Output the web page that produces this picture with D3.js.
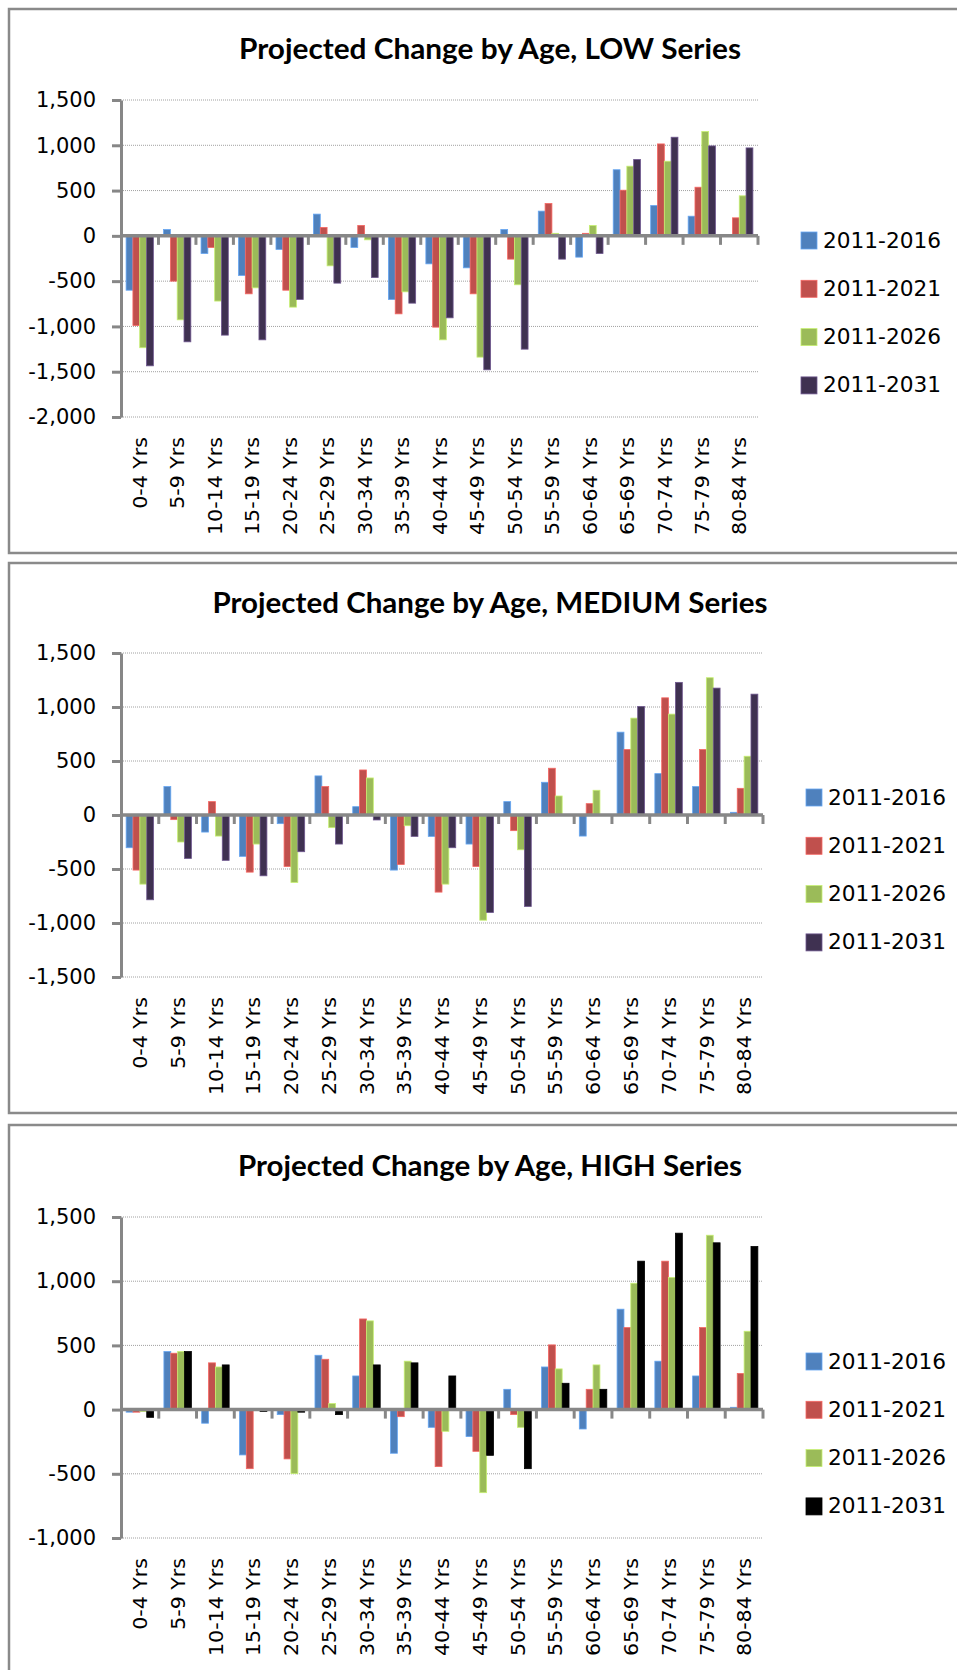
<!DOCTYPE html>
<html>
<head>
<meta charset="utf-8">
<script src="https://cdn.jsdelivr.net/npm/d3@7"></script>
<style>
  body { margin: 0; background: #fff; }
  svg { display: block; }
  .lab { font-family: "DejaVu Sans", Verdana, sans-serif; }
</style>
</head>
<body>
<svg></svg>
<script>
// age groups on the x axis
const ageGroups = ['0-4 Yrs', '5-9 Yrs', '10-14 Yrs', '15-19 Yrs', '20-24 Yrs', '25-29 Yrs',
    '30-34 Yrs', '35-39 Yrs', '40-44 Yrs', '45-49 Yrs', '50-54 Yrs', '55-59 Yrs',
    '60-64 Yrs', '65-69 Yrs', '70-74 Yrs', '75-79 Yrs', '80-84 Yrs'];

const periods = ['2011-2016', '2011-2021', '2011-2026', '2011-2031'];

// LOW series
const low2016 = [-600, 70, -195, -437, -150, 240, -128, -702, -309, -353, 70, 273, -235, 730, 335, 217, 0];
const low2021 = [-990, -500, -128, -640, -600, 93, 115, -861, -1008, -640, -257, 357, 28, 504, 1015, 537, 199];
const low2026 = [-1235, -927, -720, -574, -787, -331, -44, -618, -1148, -1339, -540, 28, 115, 769, 824, 1152, 442];
const low2031 = [-1435, -1170, -1096, -1148, -702, -522, -460, -743, -905, -1479, -1251, -257, -195, 843, 1089, 993, 971];

// MEDIUM series
const med2016 = [-303, 263, -158, -383, -80, 362, 77, -510, -198, -269, 124, 303, -195, 767, 383, 263, 25];
const med2021 = [-510, -43, 124, -529, -476, 263, 417, -458, -714, -476, -145, 433, 105, 606, 1085, 606, 247];
const med2026 = [-640, -250, -195, -269, -625, -117, 343, -99, -640, -974, -322, 176, 229, 897, 934, 1271, 544];
const med2031 = [-785, -402, -420, -563, -340, -269, -46, -198, -303, -903, -847, 0, 0, 1005, 1228, 1175, 1119];

// HIGH series
const high2016 = [-20, 452, -106, -353, -39, 423, 262, -340, -138, -210, 158, 332, -151, 782, 377, 262, 18];
const high2021 = [-20, 439, 364, -460, -384, 392, 706, -55, -444, -325, -39, 504, 158, 639, 1156, 639, 281];
const high2026 = [-15, 452, 332, 0, -499, 47, 691, 377, -169, -647, -138, 317, 348, 984, 1029, 1358, 610];
const high2031 = [-60, 452, 348, -15, -20, -39, 348, 364, 262, -356, -460, 205, 158, 1156, 1374, 1299, 1270];

// y axis tick values
const lowTicks = [-2000, -1500, -1000, -500, 0, 500, 1000, 1500];
const medTicks = [-1500, -1000, -500, 0, 500, 1000, 1500];
const highTicks = [-1000, -500, 0, 500, 1000, 1500];

const colors = ['#4F81BD', '#C0504D', '#9BBB59', '#3F3151'];
const highColors = ['#4F81BD', '#C0504D', '#9BBB59', '#000000'];

const axisGray = '#878787';
const fmt = d3.formatLocale({decimal: '.', thousands: ',', grouping: [3], currency: ['', ''], minus: '-'}).format(',');

const svg = d3.select('svg')
    .attr('width', 957)
    .attr('height', 1670);

// panel frames
[{y: 9, h: 544}, {y: 563, h: 550}, {y: 1125, h: 560}].forEach(function (p) {
    svg.append('rect')
        .attr('x', 9).attr('y', p.y)
        .attr('width', 970).attr('height', p.h)
        .attr('fill', 'none')
        .attr('stroke', '#8a8a8a')
        .attr('stroke-width', 2.5);
});

drawChart({
    title: 'Projected Change by Age, LOW Series', titleY: 59, titleW: 502,
    series: [low2016, low2021, low2026, low2031], ticks: lowTicks, colors: colors,
    left: 121, right: 758, top: 100, bottom: 417,
    legendX: 801, legendY: 240
});

drawChart({
    title: 'Projected Change by Age, MEDIUM Series', titleY: 613, titleW: 555,
    series: [med2016, med2021, med2026, med2031], ticks: medTicks, colors: colors,
    left: 121, right: 763, top: 653, bottom: 977,
    legendX: 806, legendY: 797
});

drawChart({
    title: 'Projected Change by Age, HIGH Series', titleY: 1176, titleW: 504,
    series: [high2016, high2021, high2026, high2031], ticks: highTicks, colors: highColors,
    left: 121, right: 763, top: 1217, bottom: 1538,
    legendX: 806, legendY: 1361
});

// stretch a set of labels so that one reference label gets the wanted length
function stretch(sel, refText, refWidth) {
    let natural = {};
    sel.each(function (d) { natural[d] = this.getComputedTextLength(); });
    let k = refWidth / natural[refText];
    sel.attr('textLength', d => natural[d] * k)
        .attr('lengthAdjust', 'spacingAndGlyphs');
}

function drawChart(cfg) {
    let g = svg.append('g');

    g.append('text')
        .attr('x', 490).attr('y', cfg.titleY)
        .attr('text-anchor', 'middle')
        .style('font-family', 'Lato, sans-serif')
        .attr('font-weight', 'bold')
        .attr('font-size', 28)
        .attr('textLength', cfg.titleW)
        .attr('lengthAdjust', 'spacingAndGlyphs')
        .text(cfg.title);

    let x = d3.scaleBand()
        .domain(ageGroups)
        .range([cfg.left, cfg.right]);

    let xs = d3.scaleBand()
        .domain(d3.range(periods.length))
        .range([0, x.bandwidth()])
        .paddingOuter(0.75);

    let y = d3.scaleLinear()
        .domain(d3.extent(cfg.ticks))
        .range([cfg.bottom, cfg.top]);

    // dotted gridlines
    g.append('g')
        .selectAll('line')
        .data(cfg.ticks)
        .enter()
        .append('line')
        .attr('x1', cfg.left).attr('x2', cfg.right)
        .attr('y1', d => y(d)).attr('y2', d => y(d))
        .attr('stroke', '#a0a0a0')
        .attr('stroke-width', 1)
        .attr('stroke-dasharray', '1,1');

    // bars
    cfg.series.forEach(function (vals, si) {
        let c = cfg.colors[si];
        g.append('g')
            .selectAll('rect')
            .data(vals.map((v, i) => ({age: ageGroups[i], v: v})).filter(d => d.v !== 0))
            .enter()
            .append('rect')
            .attr('x', d => x(d.age) + xs(si))
            .attr('width', xs.bandwidth())
            .attr('y', d => y(Math.max(0, d.v)))
            .attr('height', d => Math.abs(y(d.v) - y(0)))
            .attr('fill', c)
            .attr('stroke', d3.color(c).brighter(si === 3 ? 1.6 : 0.7))
            .attr('stroke-width', 0.8);
    });

    // y axis
    let yAxis = g.append('g')
        .attr('transform', 'translate(' + cfg.left + ',0)')
        .call(d3.axisLeft(y).tickValues(cfg.ticks).tickFormat(fmt).tickSize(9).tickSizeOuter(0).tickPadding(16));
    yAxis.select('.domain').attr('stroke', axisGray).attr('stroke-width', 3);
    yAxis.selectAll('.tick line').attr('stroke', axisGray).attr('stroke-width', 3);
    yAxis.selectAll('.tick text')
        .attr('class', 'lab')
        .attr('font-size', 21)
        .attr('fill', '#000');

    // x axis along zero with ticks between categories
    let y0 = y(0);
    g.append('line')
        .attr('x1', cfg.left).attr('x2', cfg.right)
        .attr('y1', y0).attr('y2', y0)
        .attr('stroke', axisGray)
        .attr('stroke-width', 3.5);
    g.append('g')
        .selectAll('line')
        .data(ageGroups)
        .enter()
        .append('line')
        .attr('x1', d => x(d) + x.step()).attr('x2', d => x(d) + x.step())
        .attr('y1', y0).attr('y2', y0 + 9)
        .attr('stroke', axisGray)
        .attr('stroke-width', 3);

    // rotated category labels
    let labels = g.append('g')
        .selectAll('text')
        .data(ageGroups)
        .enter()
        .append('text')
        .attr('class', 'lab')
        .attr('transform', d => 'translate(' + (x(d) + x.bandwidth() / 2) + ',' + (cfg.bottom + 20) + ') rotate(-90)')
        .attr('text-anchor', 'end')
        .attr('dy', '0.36em')
        .attr('font-size', 20)
        .text(d => d);
    stretch(labels, '10-14 Yrs', 98);

    // legend
    let leg = g.append('g')
        .selectAll('g')
        .data(periods)
        .enter()
        .append('g')
        .attr('transform', (d, i) => 'translate(' + cfg.legendX + ',' + (cfg.legendY + i * 48.3) + ')');
    leg.append('rect')
        .attr('x', 0).attr('y', -8)
        .attr('width', 16).attr('height', 17)
        .attr('fill', (d, i) => cfg.colors[i])
        .attr('stroke', (d, i) => d3.color(cfg.colors[i]).brighter(i === 3 ? 1.6 : 0.7))
        .attr('stroke-width', 0.8);
    leg.append('text')
        .attr('class', 'lab')
        .attr('x', 22)
        .attr('dy', '0.36em')
        .attr('font-size', 21)
        .attr('textLength', 118)
        .attr('lengthAdjust', 'spacingAndGlyphs')
        .text(d => d);
}
</script>
</body>
</html>
